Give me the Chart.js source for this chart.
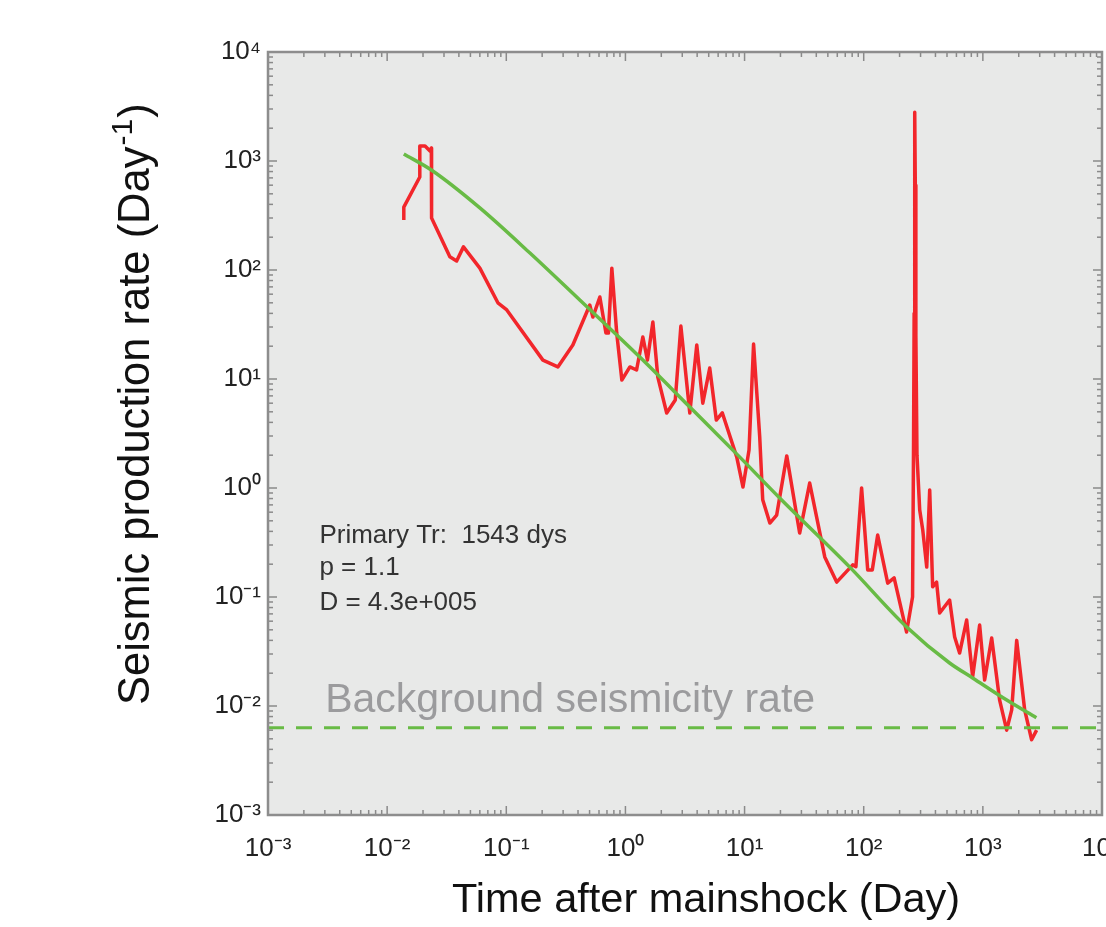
<!DOCTYPE html>
<html><head><meta charset="utf-8">
<script src="https://cdn.jsdelivr.net/npm/chart.js@4.4.0/dist/chart.umd.min.js"></script>
<style>html,body{margin:0;padding:0;background:#fff;}#wrap{width:1106px;height:927px;}</style>
</head><body><div id="wrap"><canvas id="c" width="1106" height="927"></canvas></div>
<script>
// ---- data ----
const redTime = [0.0138,0.0138,0.0188,0.0188,0.0208,0.0229,0.0235,0.0236,0.0336,0.0383,0.0437,0.060,0.085,0.101,0.203,0.271,0.362,0.502,0.533,0.61,0.686,0.72,0.769,0.845,0.933,1.09,1.24,1.40,1.53,1.70,1.87,2.22,2.62,2.92,3.47,3.97,4.46,5.1,5.79,6.5,8.6,9.7,10.9,11.9,13.4,14.2,16.3,18.6,22.6,29.0,35.2,47.1,59.3,80.9,86,96,108,118,131,159,180,229,257,262,265,268,271,274,280,295,313,338,358,379,409,434,526,580,638,731,821,940,1035,1186,1383,1585,1746,1923,2244,2566,2826];
const redRate = [288,378,713,1374,1374,1236,1316,300,132,121,163,104,50,43,14.9,12.9,20.5,47.7,37,56.5,26.4,26.4,104,26.4,9.8,12.9,12.1,24.3,14.9,33.3,10.4,4.88,6.42,30.6,4.88,20.5,6.0,12.6,4.2,4.9,1.92,1.02,2.23,20.9,2.94,0.78,0.477,0.565,1.97,0.386,1.11,0.233,0.137,0.197,0.19,1.0,0.177,0.177,0.37,0.134,0.15,0.0477,0.1,2.6,40,2800,600,25,2.0,0.63,0.412,0.188,0.96,0.124,0.137,0.0713,0.0938,0.043,0.0306,0.0615,0.0185,0.0553,0.0173,0.042,0.0113,0.006,0.0092,0.040,0.0092,0.0049,0.0060];
const fitTime = [0.0138,0.0235,0.060,0.158,0.414,1.32,3.47,9.12,19.7,76.4,228,526,826,1574,2812];
const fitRate = [1160,826,371,143,53,15.9,5.53,1.92,0.81,0.188,0.0534,0.0248,0.018,0.0114,0.0078];
const backgroundRate = 0.0063;
const xLimits = [0.001, 10000];
const yLimits = [0.001, 10000];
const xTickExponents = [-3,-2,-1,0,1,2,3,4];
const xTickLabels = ['10\u207B\u00B3','10\u207B\u00B2','10\u207B\u00B9','10\u2070','10\u00B9','10\u00B2','10\u00B3','10\u2074'];
const yTickExponents = [-3,-2,-1,0,1,2,3,4];
const yTickLabels = ['10\u207B\u00B3','10\u207B\u00B2','10\u207B\u00B9','10\u2070','10\u00B9','10\u00B2','10\u00B3','10\u2074'];
const annotationLines = ['Primary Tr:  1543 dys','p = 1.1','D = 4.3e+005'];
const backgroundLabel = 'Background seismicity rate';
const xTitle = 'Time after mainshock (Day)';
const yTitleMain = 'Seismic production rate (Day';
const yTitleSup = '-1';
const yTitleEnd = ')';

const FONT = '"Liberation Sans", Arial, Helvetica, sans-serif';

function logTicks(exps){
  const out=[];
  for(let i=0;i<exps.length;i++){
    const e=exps[i];
    out.push(Math.pow(10,e));
    if(i<exps.length-1){ for(let m=2;m<=9;m++) out.push(m*Math.pow(10,e)); }
  }
  return out;
}
function majorIndex(v, exps){
  const e=Math.round(Math.log10(v));
  if(Math.abs(v-Math.pow(10,e))<1e-9*v) return exps.indexOf(e);
  return -1;
}

const decor = {
  id:'decor',
  beforeDraw(chart){
    const {ctx, chartArea:a} = chart;
    ctx.save();
    ctx.fillStyle='#e8e9e8';
    ctx.fillRect(a.left,a.top,a.right-a.left,a.bottom-a.top);
    ctx.restore();
  },
  afterDatasetsDraw(chart){
    const {ctx, chartArea:a, scales} = chart;
    const x=scales.x, y=scales.y;
    ctx.save();
    ctx.strokeStyle='#8a8a8a'; ctx.lineWidth=1.5;
    const seg=(x1,y1,x2,y2)=>{ctx.beginPath();ctx.moveTo(x1,y1);ctx.lineTo(x2,y2);ctx.stroke();};
    x.ticks.forEach(t=>{
      const p=x.getPixelForValue(t.value);
      const L = majorIndex(t.value,xTickExponents)>=0 ? 9 : 5;
      seg(p,a.bottom,p,a.bottom-L); seg(p,a.top,p,a.top+L);
    });
    y.ticks.forEach(t=>{
      const p=y.getPixelForValue(t.value);
      const L = majorIndex(t.value,yTickExponents)>=0 ? 9 : 5;
      seg(a.left,p,a.left+L,p); seg(a.right,p,a.right-L,p);
    });
    ctx.lineWidth=2.5; ctx.strokeStyle='#8d8d8d';
    ctx.strokeRect(a.left,a.top,a.right-a.left,a.bottom-a.top);

    // annotation text
    ctx.fillStyle='#333';
    ctx.font='26px '+FONT;
    ctx.textAlign='left'; ctx.textBaseline='alphabetic';
    const ax=x.getPixelForValue(0.0027);
    const ys=[0.31,0.158,0.076];
    annotationLines.forEach((s,i)=>ctx.fillText(s,ax,y.getPixelForValue(ys[i])));
    ctx.fillStyle='#9b9b9d';
    ctx.font='41px '+FONT;
    ctx.fillText(backgroundLabel, x.getPixelForValue(0.00302), y.getPixelForValue(0.0088));

    // axis titles
    ctx.fillStyle='#111';
    ctx.font='41.5px '+FONT;
    ctx.textAlign='left';
    ctx.fillText(xTitle, 452, 912);
    // y title rotated
    ctx.save();
    ctx.translate(149, 705);
    ctx.rotate(-Math.PI/2);
    ctx.font='43.5px '+FONT;
    ctx.fillText(yTitleMain,0,0);
    let w=ctx.measureText(yTitleMain).width;
    ctx.font='30px '+FONT;
    ctx.fillText(yTitleSup,w+1,-17);
    w+=ctx.measureText(yTitleSup).width+2;
    ctx.font='43.5px '+FONT;
    ctx.fillText(yTitleEnd,w,0);
    ctx.restore();
    ctx.restore();
  }
};

const xTicksList = logTicks(xTickExponents);
const yTicksList = logTicks(yTickExponents);

new Chart(document.getElementById('c'), {
  type:'scatter',
  data:{datasets:[
    {data: redTime.map((t,i)=>({x:t,y:redRate[i]})), showLine:true, borderColor:'#f2262b', borderWidth:3.5, pointRadius:0, tension:0, borderJoinStyle:'round', order:2},
    {data: fitTime.map((t,i)=>({x:t,y:fitRate[i]})), showLine:true, borderColor:'#68bb45', borderWidth:3.5, pointRadius:0, cubicInterpolationMode:'monotone', order:1},
    {data: [{x:xLimits[0],y:backgroundRate},{x:xLimits[1],y:backgroundRate}], showLine:true, borderColor:'#68bb45', borderWidth:3, borderDash:[16,12], pointRadius:0, order:1}
  ]},
  options:{
    responsive:false, devicePixelRatio:1, animation:false,
    layout:{padding:{top:52,right:4,left:0,bottom:0}},
    plugins:{legend:{display:false}, tooltip:{enabled:false}},
    scales:{
      x:{type:'logarithmic', min:xLimits[0], max:xLimits[1],
        grid:{display:false, drawTicks:false}, border:{display:false},
        afterBuildTicks:s=>{s.ticks=xTicksList.map(v=>({value:v}));},
        afterFit:s=>{s.height=112; s.paddingLeft=0; s.paddingRight=0;},
        ticks:{autoSkip:false, maxRotation:0, minRotation:0, padding:18, color:'#222', font:{family:FONT,size:26},
          callback:(v)=>{const k=majorIndex(v,xTickExponents); return k>=0?xTickLabels[k]:'';}}
      },
      y:{type:'logarithmic', min:yLimits[0], max:yLimits[1],
        grid:{display:false, drawTicks:false}, border:{display:false},
        afterBuildTicks:s=>{s.ticks=yTicksList.map(v=>({value:v}));},
        afterFit:s=>{s.width=268; s.paddingTop=0; s.paddingBottom=0;},
        ticks:{autoSkip:false, padding:7, color:'#222', font:{family:FONT,size:26},
          callback:(v)=>{const k=majorIndex(v,yTickExponents); return k>=0?yTickLabels[k]:'';}}
      }
    }
  },
  plugins:[decor]
});
</script></body></html>
